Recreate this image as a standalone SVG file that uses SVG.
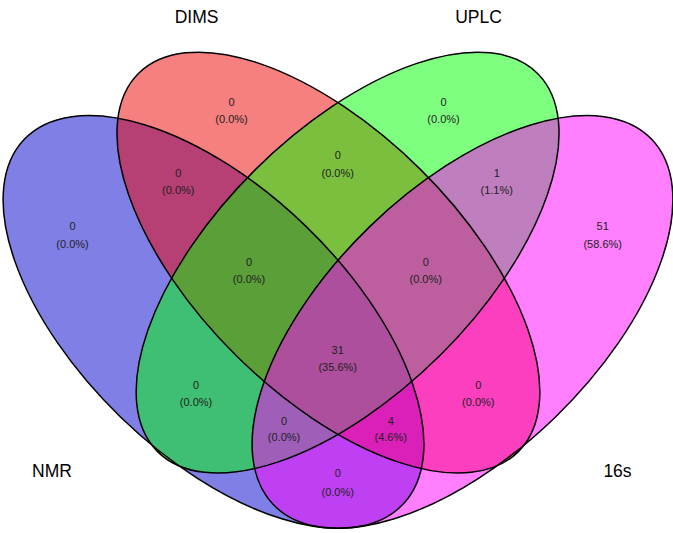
<svg xmlns="http://www.w3.org/2000/svg" width="673" height="533" viewBox="0 0 673 533">
<style>
.f{stroke:none;fill-opacity:0.5}
.o{fill:none;stroke:#000;stroke-width:1.5}
.n{font-family:"Liberation Sans",Arial,sans-serif;font-size:11px;fill:#222;text-anchor:middle}
.c{font-family:"Liberation Sans",Arial,sans-serif;font-size:17.5px;fill:#000;text-anchor:middle}
</style>
<rect width="673" height="533" fill="#fff"/>
<g id="fills">
<ellipse id="NMR" class="f" fill="#0000CD" cx="213.5" cy="321.9" rx="263" ry="133" transform="rotate(44.07 213.5 321.9)"/>
<ellipse id="DIMS" class="f" fill="#EE0000" cx="328.4" cy="262.6" rx="268" ry="131" transform="rotate(44.78 328.4 262.6)"/>
<ellipse id="UPLC" class="f" fill="#00FF00" cx="347.6" cy="262.6" rx="268" ry="131" transform="rotate(-44.78 347.6 262.6)"/>
<ellipse id="s16" class="f" fill="#FF00FF" cx="462.5" cy="321.9" rx="263" ry="133" transform="rotate(-44.07 462.5 321.9)"/>
</g>
<g id="outlines">
<ellipse class="o" cx="213.5" cy="321.9" rx="263" ry="133" transform="rotate(44.07 213.5 321.9)"/>
<ellipse class="o" cx="328.4" cy="262.6" rx="268" ry="131" transform="rotate(44.78 328.4 262.6)"/>
<ellipse class="o" cx="347.6" cy="262.6" rx="268" ry="131" transform="rotate(-44.78 347.6 262.6)"/>
<ellipse class="o" cx="462.5" cy="321.9" rx="263" ry="133" transform="rotate(-44.07 462.5 321.9)"/>
</g>
<g id="categories">
<text class="c" x="196.5" y="22.5">DIMS</text>
<text class="c" x="478.5" y="22.5">UPLC</text>
<text class="c" x="52" y="477">NMR</text>
<text class="c" x="617.5" y="477">16s</text>
</g>
<g id="counts">
<text class="n" x="231.5" y="105.7">0</text><text class="n" x="231.5" y="123.3">(0.0%)</text>
<text class="n" x="443.5" y="105.7">0</text><text class="n" x="443.5" y="123.3">(0.0%)</text>
<text class="n" x="72.5" y="230">0</text><text class="n" x="72.5" y="247.5">(0.0%)</text>
<text class="n" x="602.7" y="230">51</text><text class="n" x="602.7" y="247.5">(58.6%)</text>
<text class="n" x="178.3" y="176.7">0</text><text class="n" x="178.3" y="194">(0.0%)</text>
<text class="n" x="496.7" y="176.7">1</text><text class="n" x="496.7" y="194">(1.1%)</text>
<text class="n" x="337.7" y="159">0</text><text class="n" x="337.7" y="176.7">(0.0%)</text>
<text class="n" x="249" y="265.7">0</text><text class="n" x="249" y="283">(0.0%)</text>
<text class="n" x="425.7" y="265.7">0</text><text class="n" x="425.7" y="283">(0.0%)</text>
<text class="n" x="337.7" y="354">31</text><text class="n" x="337.7" y="370.7">(35.6%)</text>
<text class="n" x="196" y="389">0</text><text class="n" x="196" y="406.3">(0.0%)</text>
<text class="n" x="478.3" y="389">0</text><text class="n" x="478.3" y="406.3">(0.0%)</text>
<text class="n" x="284" y="424.7">0</text><text class="n" x="284" y="440.7">(0.0%)</text>
<text class="n" x="390.7" y="424.7">4</text><text class="n" x="390.7" y="440.7">(4.6%)</text>
<text class="n" x="337.7" y="477.3">0</text><text class="n" x="337.7" y="495.7">(0.0%)</text>
</g>
</svg>
